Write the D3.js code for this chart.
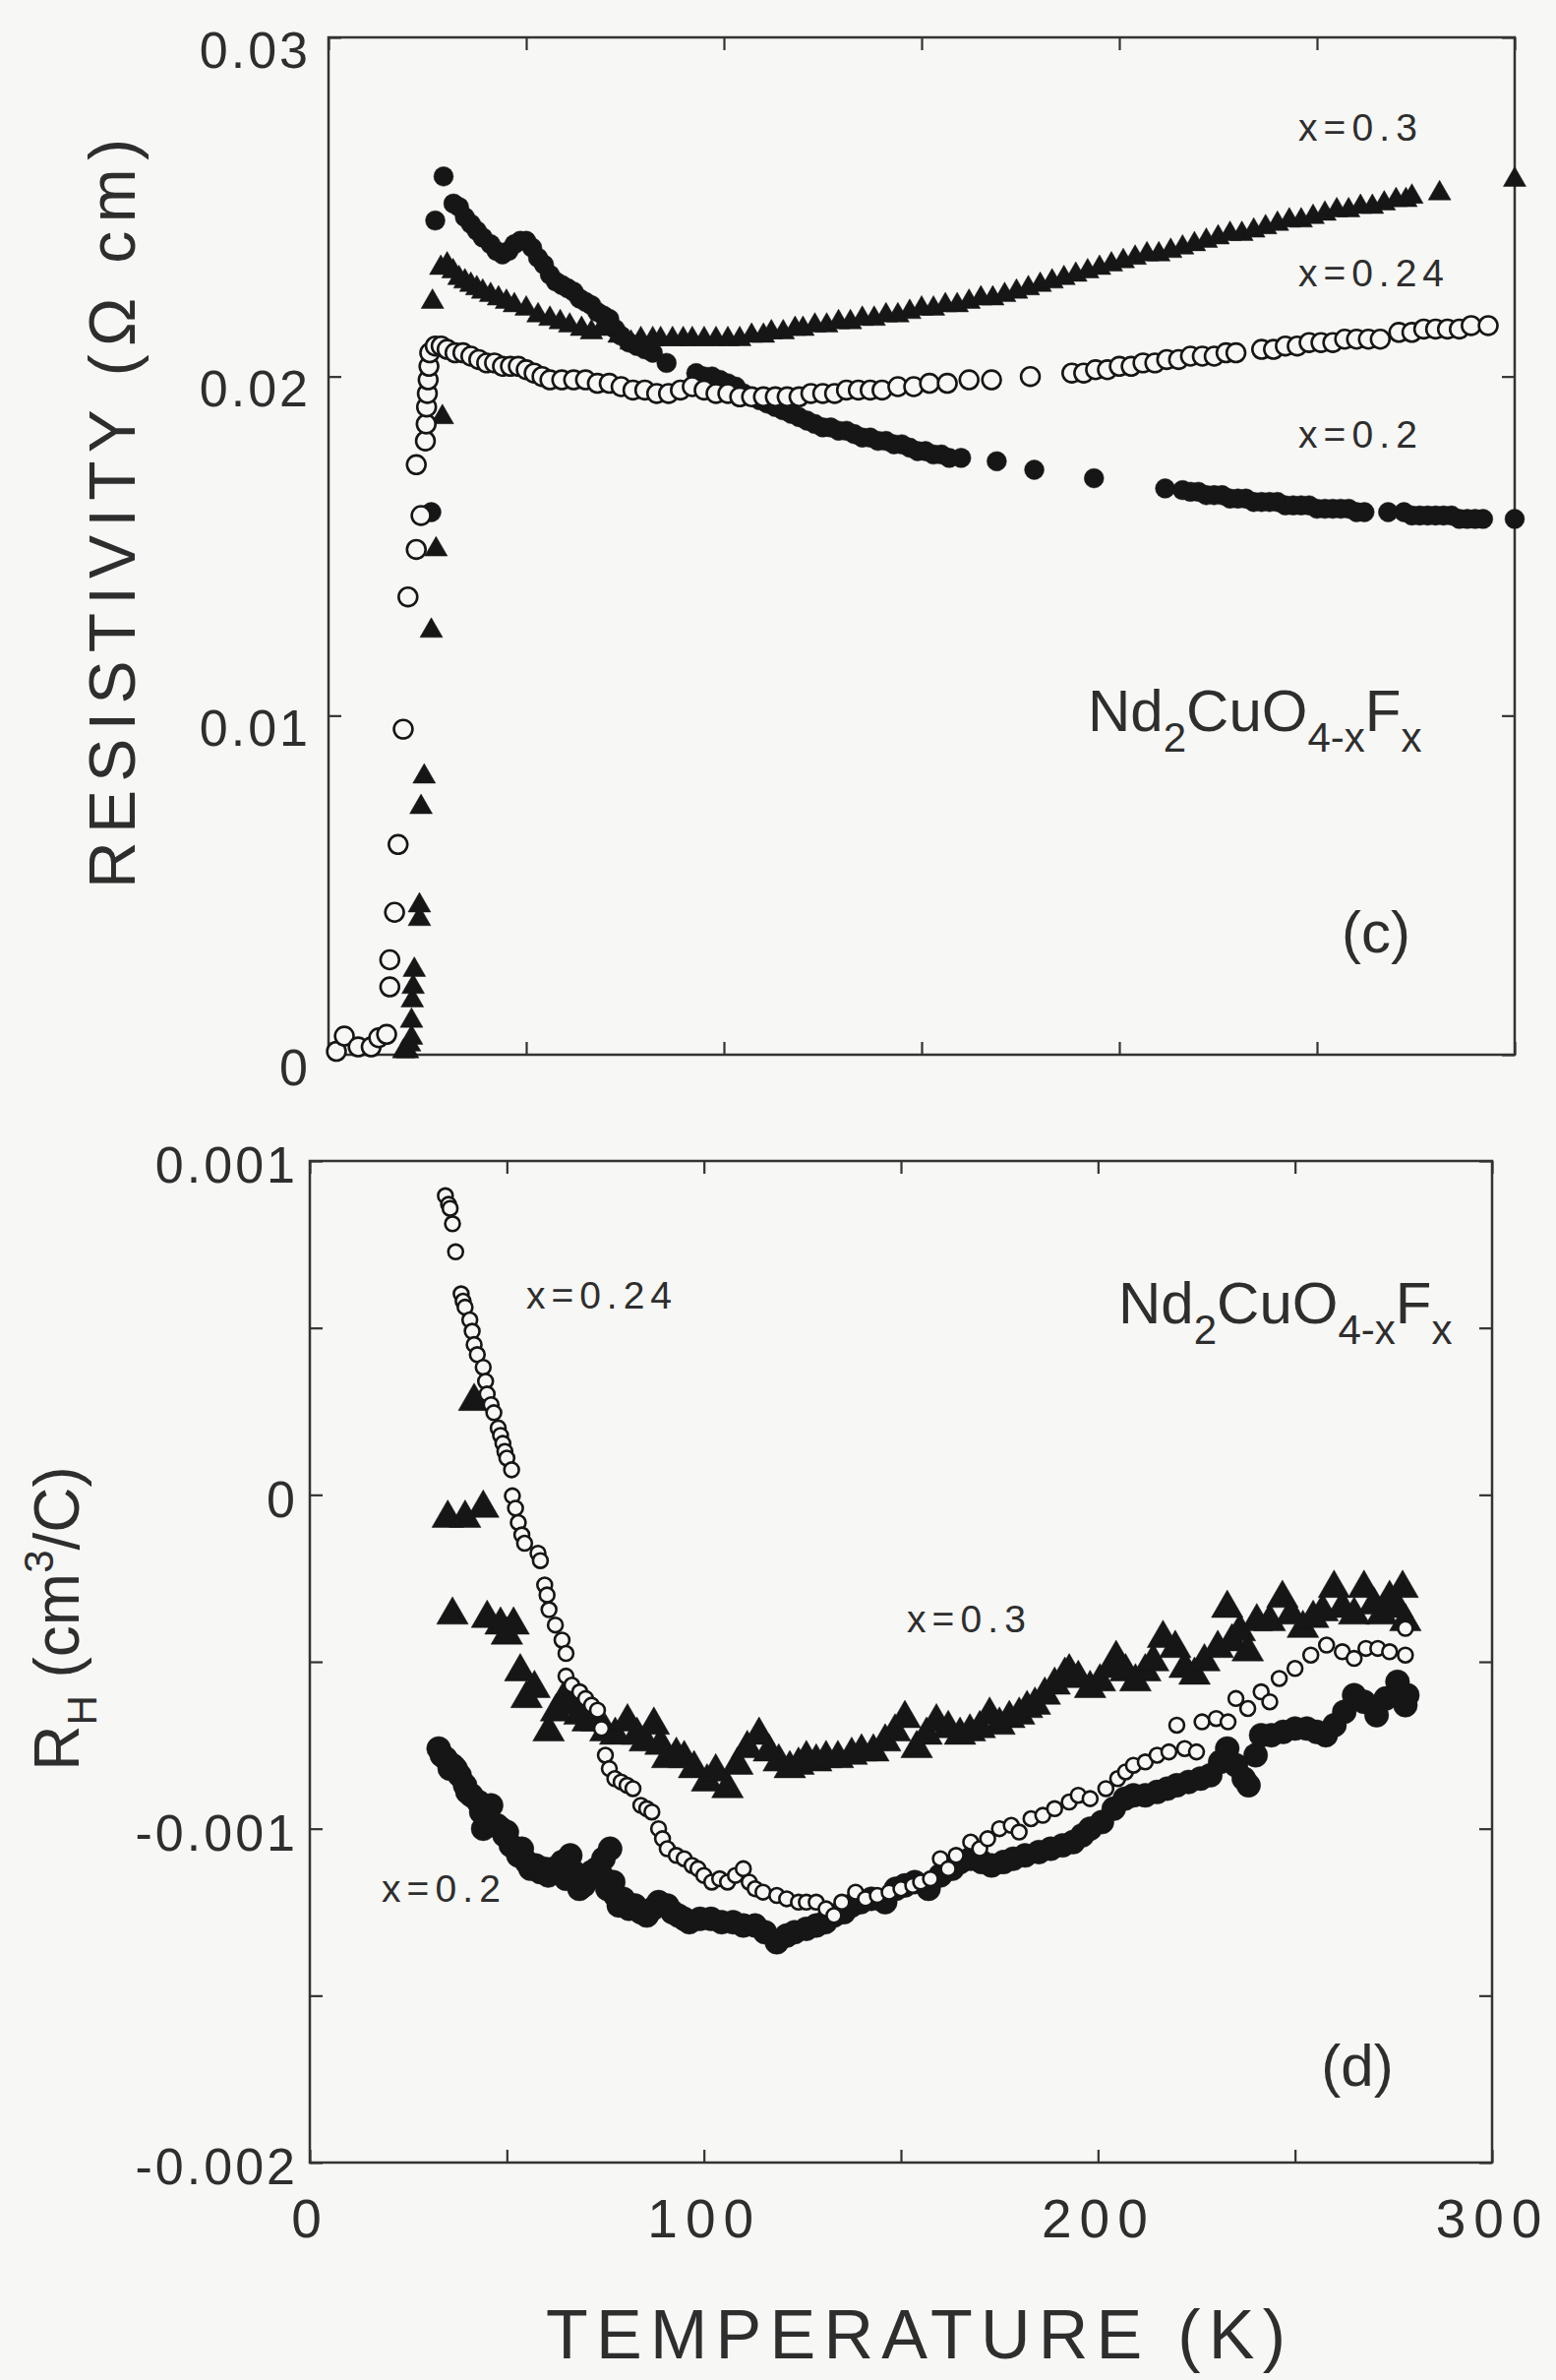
<!DOCTYPE html>
<html>
<head>
<meta charset="utf-8">
<script src="https://cdn.jsdelivr.net/npm/d3@7"></script>
<style>
  body { margin: 0; background: #f7f7f5; }
  svg text { font-family: "Liberation Sans", Arial, sans-serif; fill: #2e2e2e; }
</style>
</head>
<body>
<div id="chart"></div>
<script>
// ---- data: [temperature K, value] ----
// resistivity (ohm cm), panel (c)
const rhoX02 = [
  [26,0.0160],[27,0.0246],[29.1,0.0259],[31.6,0.0251],[33,0.0250],[34.5,0.0247],[36,0.0245],[37.5,0.0243],
  [39,0.0241],[41,0.0239],[42.5,0.0237],[44,0.0236],[45.5,0.0237],[47,0.0239],[48.5,0.0240],[50,0.0240],
  [51.5,0.0238],[53,0.0235],[54.5,0.0233],[56,0.0230],[57.5,0.0228],[59,0.0227],[60.5,0.0226],[62,0.0225],
  [63.5,0.0223],[65,0.0222],[66.5,0.0221],[68,0.0219],[69.5,0.0218],[71,0.0217],[72.5,0.0214],[74,0.0212],
  [76,0.0210],[78,0.0209],[80,0.0208],[82,0.0207],[85.5,0.0204],[93,0.0201],[95,0.0200],[97,0.0200],
  [99,0.0199],[101,0.0198],[103,0.0197],[105,0.0195],[107,0.0194],[109,0.0193],[111,0.0192],[113,0.0191],
  [115,0.0190],[117,0.0189],[119,0.0188],[121,0.0187],[123,0.0186],[125,0.0185],[127,0.0185],[129,0.0184],
  [131,0.0184],[133,0.0183],[135,0.0182],[137,0.0182],[139,0.0181],[141,0.0181],[143,0.0180],[145,0.0180],
  [147,0.0179],[149,0.0178],[151,0.0178],[153,0.0177],[155,0.0177],[157,0.0176],[160,0.0176],[169,0.0175],
  [178.5,0.01725],[193.6,0.0170],[211.6,0.0167],[216,0.01665],[218,0.0166],[220,0.0166],[222,0.0165],
  [224,0.0165],[226,0.0165],[228,0.0164],[230,0.0164],[232,0.0164],[234,0.0163],[236,0.0163],[238,0.0163],
  [240,0.0163],[242,0.0162],[244,0.0162],[246,0.0162],[248,0.0162],[250,0.0161],[252,0.0161],[254,0.0161],
  [256,0.0161],[258,0.0161],[260,0.0160],[262,0.0160],[268,0.0160],[272,0.0160],[274,0.0159],[276,0.0159],
  [278,0.0159],[280,0.0159],[282,0.0159],[284,0.0159],[286,0.0158],[288,0.0158],[290,0.0158],[292,0.0158],
  [300,0.0158]
];
const rhoX03 = [
  [19,0.0001],[20,0.0001],[20.5,0.0003],[21,0.0005],[21,0.0010],[21.2,0.0016],[21.4,0.0020],[21.7,0.0025],
  [23,0.0040],[23,0.0044],[23.4,0.0073],[24.2,0.0082],[26,0.0125],[27.2,0.0149],[28.8,0.0188],[26.3,0.0222],
  [28.4,0.0232],[30,0.0233],[31.5,0.0231],[33,0.0229],[34.5,0.0228],[36,0.0227],[37.5,0.0226],[39,0.0225],
  [41,0.0224],[43,0.0223],[45,0.0222],[47,0.0221],[50,0.0220],[53,0.0218],[56,0.0217],[58.6,0.0216],
  [61,0.0215],[64,0.0214],[66.5,0.0213],[69,0.0214],[71,0.0215],[73.5,0.0212],[76.5,0.0210],[79,0.0211],
  [82,0.0211],[84,0.0211],[87,0.0211],[89.7,0.0211],[92,0.0211],[95,0.0211],[98,0.0211],[101,0.0211],
  [104,0.0211],[107,0.0212],[110,0.0212],[112,0.0213],[115,0.0213],[118,0.0214],[120,0.0214],[123,0.0215],
  [126,0.0215],[129,0.0216],[132,0.0216],[135,0.0217],[138,0.0217],[141,0.0218],[144,0.0218],[147,0.0219],
  [150,0.0220],[153,0.0220],[156,0.0221],[159,0.0221],[162,0.0222],[165,0.0223],[168,0.0223],[171,0.0224],
  [174,0.0225],[177,0.0226],[180,0.0227],[183,0.0228],[186,0.0229],[189,0.0230],[192,0.0231],[195,0.0232],
  [198,0.0233],[201,0.0234],[204,0.0235],[207,0.0236],[210,0.0236],[213,0.0237],[216,0.0238],[219,0.0239],
  [222,0.0240],[225,0.0241],[228,0.0242],[231,0.0242],[234,0.0243],[237,0.0244],[240,0.0245],[243,0.0246],
  [246,0.0246],[249,0.0247],[252,0.0248],[255,0.0249],[258,0.0249],[261,0.0250],[264,0.0250],[267,0.0251],
  [270,0.0252],[272.5,0.0252],[274,0.0253],[281,0.0254],[300,0.0258]
];
const rhoX024 = [
  [2,0.0001],[4,0.00055],[7.5,0.00023],[10.8,0.00023],[12.7,0.0005],[14.7,0.0006],[15.5,0.0020],[15.5,0.0028],
  [16.7,0.0042],[17.6,0.0062],[18.9,0.0096],[20.1,0.0135],[22.2,0.0149],[23.4,0.0159],[22.2,0.0174],
  [24.5,0.0181],[24.7,0.0186],[24.8,0.0191],[25,0.0195],[25.2,0.0199],[25.4,0.0203],[25.6,0.0207],
  [27,0.0209],[28.5,0.0209],[30,0.0208],[32,0.0207],[34,0.0207],[36,0.0206],[38,0.0205],[40,0.0204],
  [42,0.0204],[44,0.0203],[46,0.0203],[48,0.0203],[50,0.0202],[52,0.0201],[54,0.0200],[56,0.0199],
  [59,0.0199],[62,0.0199],[65,0.0199],[68,0.0198],[71,0.0198],[74,0.0197],[77,0.0196],[80,0.0196],
  [83,0.0195],[86,0.0195],[89,0.0196],[92,0.0197],[95,0.0196],[98,0.0195],[101,0.0195],[104,0.0194],
  [107,0.0194],[110,0.0194],[113,0.0194],[116,0.0194],[119,0.0194],[122,0.0195],[125,0.0195],[128,0.0195],
  [131,0.0196],[134,0.0196],[137,0.0196],[140,0.0196],[144,0.0197],[148,0.0197],[152,0.0198],[156.5,0.0198],
  [162,0.0199],[167.7,0.0199],[177.5,0.0200],[188,0.0201],[191,0.0201],[194,0.0202],[197,0.0202],[200,0.0203],
  [203,0.0203],[206,0.0204],[209,0.0204],[212,0.0205],[215,0.0205],[218,0.0206],[221,0.0206],[224,0.0206],
  [227,0.0207],[229.5,0.0207],[236,0.0208],[239,0.0208],[242,0.0209],[245,0.0209],[248,0.0210],[251,0.0210],
  [254,0.0210],[257,0.0211],[260,0.0211],[263,0.0211],[266,0.0211],[270.7,0.0213],[274,0.0213],[277,0.0214],
  [280,0.0214],[283,0.0214],[286,0.0214],[289,0.0215],[293.3,0.0215]
];

// Hall coefficient (cm^3/C), panel (d)
const hallX02 = [
  [32.7,-0.00076],[33.5,-0.00078],[34.5,-0.00079],[35.5,-0.00082],[36.2,-0.00081],[37,-0.00082],[38,-0.00084],
  [39.4,-0.00087],[40,-0.00089],[41,-0.0009],[42.8,-0.00092],[43.5,-0.00095],[44,-0.001],[45,-0.00097],
  [46,-0.00093],[47.5,-0.00099],[48.5,-0.001],[49.4,-0.00102],[50,-0.00101],[51,-0.00105],[52.9,-0.00108],
  [53.8,-0.00106],[55,-0.0011],[56,-0.00112],[57.3,-0.00111],[58.5,-0.00113],[59.5,-0.00112],[60.5,-0.00114],
  [61.8,-0.00112],[63,-0.00113],[64,-0.0011],[65,-0.00115],[66.1,-0.00108],[67,-0.00113],[68.4,-0.00118],
  [69.5,-0.00117],[70.5,-0.00115],[71.5,-0.00113],[72.8,-0.00112],[74,-0.00114],[74.5,-0.00109],[75.5,-0.00118],
  [76.2,-0.00106],[77,-0.00116],[77.5,-0.0012],[78.4,-0.00123],[79.5,-0.00121],[81,-0.00124],[82.5,-0.00123],
  [84,-0.00125],[85.5,-0.00126],[87,-0.00124],[88.5,-0.00122],[90.7,-0.00123],[92,-0.00125],[93.5,-0.00126],
  [95,-0.00127],[96.3,-0.00128],[99,-0.00127],[101.8,-0.00127],[104.5,-0.00128],
  [107.4,-0.00128],[110,-0.00129],[113,-0.00129],[115.5,-0.00131],[118.5,-0.00134],[121,-0.00132],[123,-0.00131],
  [126,-0.0013],[128.5,-0.00129],[130.8,-0.00128],[133,-0.00126],[135.5,-0.00125],[137.5,-0.00123],[139.8,-0.00122],
  [142.5,-0.00121],[146,-0.00122],[148.7,-0.00118],[151,-0.00117],[153.5,-0.00116],[157,-0.00118],[160,-0.00114],
  [163,-0.00112],[165,-0.0011],[167.7,-0.00109],[170.5,-0.0011],[173,-0.00111],[176,-0.0011],[178.5,-0.00109],
  [181.5,-0.00108],[185,-0.00107],[188,-0.00106],[191,-0.00105],[193.7,-0.00104],[196,-0.00102],[198,-0.001],
  [201,-0.00098],[204,-0.00094],[206.8,-0.00091],[209,-0.0009],[212,-0.0009],[215,-0.00089],[217.6,-0.00088],
  [220,-0.00087],[223,-0.00086],[226,-0.00085],[228.5,-0.00084],[231,-0.0008],[232.8,-0.00076],[235,-0.00081],
  [237,-0.00085],[238.2,-0.00087],[240,-0.00078],[241.4,-0.00072],[244,-0.00072],[247,-0.00071],[250,-0.0007],
  [253,-0.0007],[255.5,-0.00071],[257.8,-0.00072],[260,-0.00069],[262.5,-0.00065],[265,-0.0006],[267.5,-0.00062],
  [270.7,-0.00066],[273,-0.00061],[276,-0.00056],[278,-0.00063],[278.5,-0.0006]
];
const hallX03 = [
  [35,-0.00007],[39.4,-0.00007],[44,-0.00004],[41.7,0.00028],[36.2,-0.00036],[45,-0.00037],[48.4,-0.00039],
  [51.7,-0.00039],[50,-0.00042],[53.4,-0.00053],[55,-0.00061],[57,-0.00058],[60.6,-0.00071],[62.5,-0.00065],
  [65,-0.0006],[66.5,-0.00063],[68.4,-0.00066],[70.5,-0.00068],[72.8,-0.00068],[75,-0.00071],[77.5,-0.00072],
  [80.6,-0.00068],[83,-0.00072],[85,-0.00074],[87.3,-0.00069],[89,-0.00075],[90.7,-0.00079],[93,-0.00078],
  [95,-0.00079],[97.5,-0.00082],[100.8,-0.00086],[103,-0.00083],[106,-0.00088],[108.5,-0.00081],[111,-0.00076],
  [114,-0.00072],[116.5,-0.00077],[119,-0.0008],[121.8,-0.00082],[124,-0.00081],[126,-0.00079],[128.5,-0.0008],
  [131,-0.00079],[134,-0.00079],[137.5,-0.00078],[140,-0.00077],[143,-0.00077],[146,-0.00074],[148.5,-0.00071],
  [151,-0.00067],[154,-0.00076],[156.5,-0.00072],[159,-0.00068],[162,-0.0007],[165,-0.00072],[167.5,-0.00071],
  [170,-0.0007],[172.5,-0.00066],[175,-0.00069],[177.5,-0.00067],[180,-0.00066],[182,-0.00064],[184,-0.00063],
  [186.5,-0.0006],[189,-0.00057],[191.6,-0.00054],[192.7,-0.00053],[195,-0.00055],[198,-0.00058],[200.5,-0.00056],
  [203.4,-0.00052],[204.6,-0.00049],[207,-0.00053],[209.5,-0.00056],[212,-0.00053],[214,-0.0005],[216.5,-0.00043],
  [219.6,-0.00046],[222,-0.00052],[224.5,-0.00054],[227,-0.0005],[230.4,-0.00046],[232.8,-0.00034],[234,-0.00044],
  [236,-0.00041],[238,-0.00047],[240.3,-0.00038],[243.6,-0.00038],[246.8,-0.00031],[249,-0.00036],[252,-0.0004],
  [254.6,-0.00037],[257,-0.00035],[259.9,-0.00028],[262,-0.00034],[265,-0.00036],[267.5,-0.00028],[270,-0.00033],
  [272,-0.00036],[274,-0.00031],[276,-0.00034],[277.3,-0.00028],[278,-0.00038]
];
const hallX024 = [
  [34.4,0.000896],[35.2,0.00087],[35.6,0.000858],[36.2,0.000812],[37,0.000728],[38.4,0.000602],[38.9,0.00058],
  [39.4,0.000562],[40.6,0.000524],[41.2,0.00049],[41.7,0.00045],[42.5,0.00042],[44,0.000382],[44.6,0.00034],
  [45,0.000302],[46,0.00027],[46.7,0.000246],[47.8,0.0002],[48.4,0.000178],[49,0.000154],[49.5,0.00013],
  [50,0.00011],[51.2,0.000075],[51.4,-0.000003],[52.2,-0.00004],[52.9,-0.000083],[53.8,-0.00012],[54.5,-0.000145],
  [57.9,-0.000175],[58.5,-0.000197],[59.6,-0.00027],[60.2,-0.0003],[60.7,-0.000344],[62.3,-0.00039],[64,-0.000435],
  [65,-0.000475],[65,-0.000543],[66.5,-0.00057],[68.5,-0.00059],[70,-0.00061],[71.5,-0.00063],[73,-0.000645],
  [74,-0.0007],[75,-0.00078],[76,-0.00082],[77.4,-0.00085],[79,-0.00086],[80.5,-0.00087],[82,-0.00088],
  [84,-0.00093],[85.5,-0.00094],[86.8,-0.00095],[88.5,-0.001],[89.5,-0.00103],[90.7,-0.00106],[93,-0.00108],
  [95,-0.00109],[97,-0.00111],[98.5,-0.00112],[100,-0.00114],[102,-0.00116],[104,-0.00115],[106,-0.00116],
  [108,-0.00114],[110,-0.00112],[111.5,-0.00116],[113,-0.00118],[115,-0.00119],[118.5,-0.0012],[121,-0.00121],
  [124,-0.00122],[126,-0.00122],[128.5,-0.00122],[131,-0.00124],[133,-0.00126],[135,-0.00122],[138.5,-0.00119],
  [141,-0.00121],[144,-0.0012],[147,-0.00119],[150,-0.00118],[153,-0.00117],[155,-0.00116],[157.5,-0.00115],
  [160,-0.00109],[162,-0.00112],[164,-0.00108],[167.7,-0.00104],[170,-0.00106],[172,-0.00103],[175,-0.001],
  [178,-0.00099],[180,-0.00101],[183,-0.00097],[186,-0.00096],[189,-0.00094],[192.7,-0.00092],[195,-0.0009],
  [198,-0.00091],[202,-0.00088],[205,-0.00085],[207,-0.00083],[209,-0.00081],[212,-0.0008],[215,-0.00078],
  [218,-0.00077],[220,-0.00069],[222,-0.00076],[225,-0.00077],[226.4,-0.00068],[230,-0.00067],[233,-0.00068],
  [235,-0.00061],[238,-0.00064],[241.4,-0.00059],[243.6,-0.00062],[246,-0.00055],[250,-0.00052],[254,-0.00048],
  [258,-0.00045],[262,-0.00047],[265,-0.00049],[268,-0.00046],[271,-0.00046],[274,-0.00047],[278,-0.00048],
  [278,-0.0004]
];

// ---- ticks ----
const tempTicks = [0, 50, 100, 150, 200, 250, 300];
const tempLabels = [0, 100, 200, 300];
const rhoTicks = [0, 0.01, 0.02, 0.03];
const hallTicks = [-0.002, -0.001, 0, 0.001];
const hallMinorTicks = [-0.002, -0.0015, -0.001, -0.0005, 0, 0.0005, 0.001];

const ink = "#161616";

const svg = d3.select("#chart").append("svg")
    .attr("width", 1582)
    .attr("height", 2419);

svg.append("rect").attr("width", 1582).attr("height", 2419).attr("fill", "#f7f7f5");

// ---- scales ----
const xTop = d3.scaleLinear().domain([0, 300]).range([334, 1540]);
const yTop = d3.scaleLinear().domain([0, 0.03]).range([1072, 38]);
const xBot = d3.scaleLinear().domain([0, 300]).range([315, 1517]);
const yBot = d3.scaleLinear().domain([-0.002, 0.001]).range([2198, 1180]);

// frame with inward ticks on all four sides
function frame(x, y, yTickVals, yLabelVals, yFmt, labelPad, labelDy) {
    const [x0, x1] = x.range();
    const [y0, y1] = [y.range()[1], y.range()[0]];
    const g = svg.append("g");

    g.append("rect")
        .attr("x", x0).attr("y", y0)
        .attr("width", x1 - x0).attr("height", y1 - y0)
        .attr("fill", "none").attr("stroke", "#333").attr("stroke-width", 2.5);

    const tick = 13;
    const axes = [
        [d3.axisBottom(x).tickValues(tempTicks), `translate(0,${y1})`],
        [d3.axisTop(x).tickValues(tempTicks), `translate(0,${y0})`],
        [d3.axisLeft(y).tickValues(yTickVals), `translate(${x0},0)`],
        [d3.axisRight(y).tickValues(yTickVals), `translate(${x1},0)`]
    ];
    axes.forEach(([ax, tr]) => {
        const a = g.append("g").attr("transform", tr)
            .call(ax.tickSize(-tick).tickFormat(""));
        a.select(".domain").remove();
        a.selectAll("line").attr("stroke", "#333").attr("stroke-width", 2.2);
    });

    // y tick labels
    const lab = g.append("g").attr("transform", `translate(${x0},0)`)
        .call(d3.axisLeft(y).tickValues(yLabelVals).tickSize(0).tickPadding(labelPad).tickFormat(yFmt));
    lab.select(".domain").remove();
    lab.selectAll("text")
        .attr("dy", labelDy)
        .style("font-size", "52px")
        .style("letter-spacing", "3px")
        .style("font-family", "'Liberation Sans', Arial, sans-serif")
        .attr("fill", "#2e2e2e");
    return g;
}

frame(xTop, yTop, rhoTicks, rhoTicks, d => d === 0 ? "0" : d.toFixed(2), 18, "0.58em");
frame(xBot, yBot, hallMinorTicks, hallTicks, d => d === 0 ? "0" : d.toFixed(3), 12, "0.42em");

// bottom temperature labels
const xl = svg.append("g").attr("transform", `translate(0,${yBot.range()[0]})`)
    .call(d3.axisBottom(xBot).tickValues(tempLabels).tickSize(0).tickPadding(37).tickFormat(d3.format("d")));
xl.select(".domain").remove();
xl.selectAll("text")
    .style("font-size", "55px")
    .style("letter-spacing", "8px")
    .style("font-family", "'Liberation Sans', Arial, sans-serif")
    .attr("fill", "#2e2e2e");

// ---- markers ----
function plot(data, x, y, type, size, open) {
    svg.append("g").selectAll("path")
        .data(data)
        .join("path")
        .attr("transform", d => `translate(${x(d[0])},${y(d[1])})`)
        .attr("d", d3.symbol().type(type).size(size))
        .attr("fill", open ? "#f7f7f5" : ink)
        .attr("stroke", ink)
        .attr("stroke-width", open ? 2.6 : 0.5);
}

plot(rhoX02, xTop, yTop, d3.symbolCircle, 310, false);
plot(rhoX03, xTop, yTop, d3.symbolTriangle, 230, false);
plot(rhoX024, xTop, yTop, d3.symbolCircle, 280, true);

plot(hallX02, xBot, yBot, d3.symbolCircle, 470, false);
plot(hallX03, xBot, yBot, d3.symbolTriangle, 450, false);
plot(hallX024, xBot, yBot, d3.symbolCircle, 175, true);

// ---- text labels ----
function label(txt, x, y, len) {
    svg.append("text")
        .attr("x", x).attr("y", y)
        .attr("textLength", len).attr("lengthAdjust", "spacing")
        .style("font-size", "39px")
        .text(txt);
}
label("x=0.3", 1320, 143, 121);
label("x=0.24", 1320, 291, 148);
label("x=0.2", 1320, 455, 121);
label("x=0.24", 535, 1330, 148);
label("x=0.3", 922, 1659, 121);
label("x=0.2", 388, 1933, 121);

function formula(x, y) {
    const t = svg.append("text").attr("x", x).attr("y", y).style("font-size", "60px");
    t.append("tspan").text("Nd");
    t.append("tspan").attr("dy", 21).style("font-size", "42px").text("2");
    t.append("tspan").attr("dy", -21).text("CuO");
    t.append("tspan").attr("dy", 21).style("font-size", "42px").text("4-x");
    t.append("tspan").attr("dy", -21).text("F");
    t.append("tspan").attr("dy", 21).style("font-size", "42px").text("x");
}
formula(1106, 743);
formula(1137, 1345);

svg.append("text").attr("x", 1399).attr("y", 968).attr("text-anchor", "middle")
    .style("font-size", "60px").text("(c)");
svg.append("text").attr("x", 1380).attr("y", 2120).attr("text-anchor", "middle")
    .style("font-size", "60px").text("(d)");

// axis titles
svg.append("text")
    .attr("transform", "translate(137,522) rotate(-90)")
    .attr("text-anchor", "middle")
    .attr("textLength", 762).attr("lengthAdjust", "spacing")
    .style("font-size", "66px")
    .text("RESISTIVITY  (\u03A9 cm)");

const rh = svg.append("text")
    .attr("transform", "translate(80,1645) rotate(-90)")
    .attr("text-anchor", "middle")
    .style("font-size", "64px");
rh.append("tspan").text("R");
rh.append("tspan").attr("dy", 18).style("font-size", "42px").text("H");
rh.append("tspan").attr("dy", -18).text(" (cm");
rh.append("tspan").attr("dy", -26).style("font-size", "42px").text("3");
rh.append("tspan").attr("dy", 26).text("/C)");

svg.append("text")
    .attr("x", 931).attr("y", 2397)
    .attr("text-anchor", "middle")
    .attr("textLength", 752).attr("lengthAdjust", "spacing")
    .style("font-size", "70px")
    .text("TEMPERATURE  (K)");
</script>
</body>
</html>
